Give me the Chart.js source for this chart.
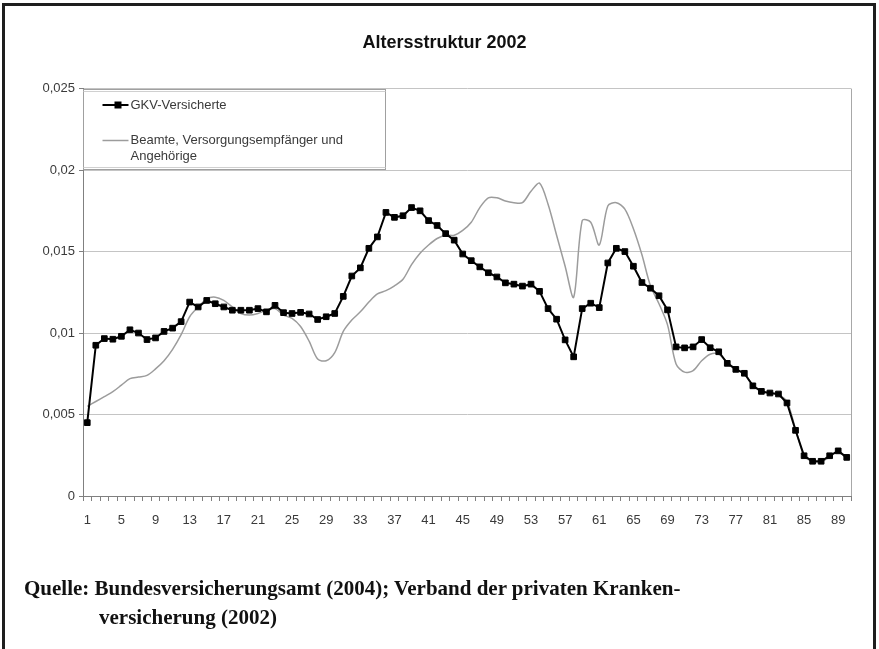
<!DOCTYPE html>
<html>
<head>
<meta charset="utf-8">
<script src="https://cdn.jsdelivr.net/npm/chart.js@4.4.1/dist/chart.umd.min.js"></script>
<style>
html,body{margin:0;padding:0;background:#fff;}
#wrap{position:relative;width:879px;height:649px;overflow:hidden;background:#fff;}
#c{position:absolute;left:0;top:0;}
#frame{position:absolute;left:2px;top:3px;width:868px;height:700px;border:3px solid #1e1e1e;border-bottom:none;}
.src{position:absolute;font-family:"Liberation Serif","Times New Roman",serif;font-weight:bold;font-size:21px;color:#111;white-space:nowrap;line-height:1;}
</style>
</head>
<body>
<div id="wrap">
<canvas id="c" width="879" height="560"></canvas>
<div id="frame"></div>
<div class="src" style="left:24px;top:578px;">Quelle: Bundesversicherungsamt (2004); Verband der privaten Kranken-</div>
<div class="src" style="left:99px;top:607px;">versicherung (2002)</div>
</div>
<script>
// ---- data ----
const ages = Array.from({length: 90}, (_, i) => String(i + 1));
const gkvVersicherte = [
  0.0045, 0.00925, 0.00966, 0.00962, 0.0098, 0.0102, 0.0100, 0.0096, 0.0097, 0.0101,
  0.0103, 0.0107, 0.0119, 0.0116, 0.0120, 0.0118, 0.0116, 0.0114, 0.0114, 0.0114,
  0.0115, 0.0113, 0.0117, 0.01125, 0.0112, 0.01127, 0.01117, 0.01083, 0.0110, 0.0112,
  0.01225, 0.0135, 0.0140, 0.0152, 0.0159, 0.0174, 0.0171, 0.0172, 0.0177, 0.0175,
  0.0169, 0.0166, 0.0161, 0.0157, 0.01485, 0.01444, 0.01406, 0.0137, 0.01344, 0.01308,
  0.0130, 0.01288, 0.0130, 0.01256, 0.0115, 0.01085, 0.00958, 0.00854, 0.0115, 0.01183,
  0.01156, 0.0143, 0.0152, 0.0150, 0.0141, 0.0131, 0.01275, 0.01229, 0.01142, 0.00915,
  0.00909, 0.00915, 0.0096, 0.0091, 0.00885, 0.00814, 0.00777, 0.00753, 0.00676, 0.00642,
  0.00632, 0.00626, 0.00571, 0.00403, 0.00247, 0.00213, 0.00213, 0.00247, 0.00277, 0.00237
];
const beamteVersorgung = [
  0.0055, 0.0058, 0.0061, 0.0064, 0.0068, 0.0072, 0.0073, 0.0074, 0.0078, 0.0083,
  0.0090, 0.0099, 0.0110, 0.0116, 0.0121, 0.0122, 0.0120, 0.0116, 0.0112, 0.0111,
  0.0112, 0.0114, 0.0115, 0.0111, 0.0109, 0.0104, 0.0095, 0.0084, 0.0083, 0.0088,
  0.0101, 0.0108, 0.0113, 0.0119, 0.0124, 0.0126, 0.0129, 0.0133, 0.0142, 0.0149,
  0.0154, 0.0158, 0.0160, 0.0160, 0.0163, 0.0168, 0.0177, 0.0183, 0.0183, 0.0181,
  0.0180, 0.0180, 0.0187, 0.0192, 0.0179, 0.0160, 0.0141, 0.0122, 0.0169, 0.0168,
  0.0154, 0.0178, 0.0180, 0.0176, 0.0164, 0.0148, 0.0129, 0.0118, 0.0105, 0.0081,
  0.0076, 0.0077, 0.0083, 0.0087, 0.0087, 0.0082, 0.0078, 0.0075, 0.0068, 0.0064,
  0.0063, 0.0062, 0.0058, 0.0041, 0.0025, 0.0021, 0.0021, 0.0024, 0.0027, 0.0023
];
const yTickLabels = ['0', '0,005', '0,01', '0,015', '0,02', '0,025'];
const seriesNames = ['GKV-Versicherte', 'Beamte, Versorgungsempfänger und Angehörige'];
const titleText = 'Altersstruktur 2002';

// ---- plugins ----
const plotBorder = {
  id: 'plotBorder',
  beforeDatasetsDraw(chart) {
    const a = chart.chartArea, ctx = chart.ctx;
    ctx.save();
    ctx.strokeStyle = '#a8a8a8';
    ctx.lineWidth = 1;
    ctx.beginPath();
    ctx.moveTo(Math.round(a.right) + 0.5, a.top);
    ctx.lineTo(Math.round(a.right) + 0.5, a.bottom);
    ctx.stroke();
    ctx.restore();
  }
};

const boxLegend = {
  id: 'boxLegend',
  afterDraw(chart) {
    const ctx = chart.ctx;
    const a = chart.chartArea;
    const x0 = Math.round(a.left) + 0.5, y0 = Math.round(a.top) + 0.5;
    const w = 302, h = 80;
    ctx.save();
    ctx.fillStyle = '#fff';
    ctx.fillRect(x0, y0, w, h);
    ctx.strokeStyle = '#a0a0a0';
    ctx.lineWidth = 1;
    ctx.strokeRect(x0, y0, w, h);
    ctx.beginPath();
    ctx.moveTo(x0, y0 + 2); ctx.lineTo(x0 + w, y0 + 2);
    ctx.moveTo(x0, y0 + h - 2); ctx.lineTo(x0 + w, y0 + h - 2);
    ctx.strokeStyle = '#d0d0d0';
    ctx.stroke();
    const ds0 = chart.data.datasets[0], ds1 = chart.data.datasets[1];
    let ly = y0 + 15.5;
    ctx.strokeStyle = ds0.borderColor; ctx.lineWidth = 2;
    ctx.beginPath(); ctx.moveTo(x0 + 19, ly); ctx.lineTo(x0 + 45, ly); ctx.stroke();
    ctx.fillStyle = ds0.pointBackgroundColor;
    ctx.fillRect(x0 + 31, ly - 3.5, 7, 7);
    ctx.font = '13px "Liberation Sans", Arial, sans-serif';
    ctx.textBaseline = 'middle';
    ctx.fillStyle = '#3a3a3a';
    ctx.fillText(seriesNames[0], x0 + 47, ly);
    ly = y0 + 51;
    ctx.strokeStyle = ds1.borderColor; ctx.lineWidth = 1.5;
    ctx.beginPath(); ctx.moveTo(x0 + 19, ly); ctx.lineTo(x0 + 45, ly); ctx.stroke();
    ctx.fillStyle = '#3a3a3a';
    ctx.fillText('Beamte, Versorgungsempfänger und', x0 + 47, ly);
    ctx.fillText('Angehörige', x0 + 47, ly + 16);
    ctx.restore();
  }
};

new Chart(document.getElementById('c'), {
  type: 'line',
  data: {
    labels: ages,
    datasets: [
      {
        label: seriesNames[0],
        data: gkvVersicherte,
        borderColor: '#000',
        borderWidth: 2,
        pointStyle: 'rect',
        pointRadius: 4,
        pointBorderWidth: 1,
        pointBackgroundColor: '#000',
        pointBorderColor: '#000',
        tension: 0
      },
      {
        label: seriesNames[1],
        data: beamteVersorgung,
        borderColor: '#9c9c9c',
        borderWidth: 1.5,
        pointRadius: 0,
        tension: 0.3
      }
    ]
  },
  options: {
    responsive: false,
    animation: false,
    devicePixelRatio: 1,
    layout: { padding: { left: 38, right: 28, top: 0, bottom: 0 } },
    plugins: {
      legend: { display: false },
      tooltip: { enabled: false },
      title: {
        display: true,
        text: titleText,
        color: '#111',
        font: { family: '"Liberation Sans", Arial, sans-serif', size: 18, weight: 'bold', lineHeight: 1.2 },
        padding: { top: 32, bottom: 35 }
      }
    },
    scales: {
      x: {
        offset: true,
        grid: { display: true, drawOnChartArea: false, offset: true, tickLength: 5, color: '#808080' },
        border: { color: '#808080', width: 1 },
        ticks: {
          autoSkip: false, maxRotation: 0, minRotation: 0, padding: 12,
          color: '#3a3a3a',
          font: { family: '"Liberation Sans", Arial, sans-serif', size: 13 },
          callback: (v, i) => (i % 4 === 0 ? ages[i] : '')
        },
        afterFit: (s) => { s.height = 64; }
      },
      y: {
        min: 0, max: 0.025,
        grid: { color: '#c4c4c4', tickLength: 4, tickColor: '#808080' },
        border: { color: '#808080', width: 1 },
        ticks: {
          stepSize: 0.005, padding: 4,
          color: '#3a3a3a',
          font: { family: '"Liberation Sans", Arial, sans-serif', size: 13 },
          callback: (v, i) => yTickLabels[i]
        },
        afterFit: (s) => { s.width = 45; }
      }
    }
  },
  plugins: [plotBorder, boxLegend]
});
</script>
</body>
</html>
